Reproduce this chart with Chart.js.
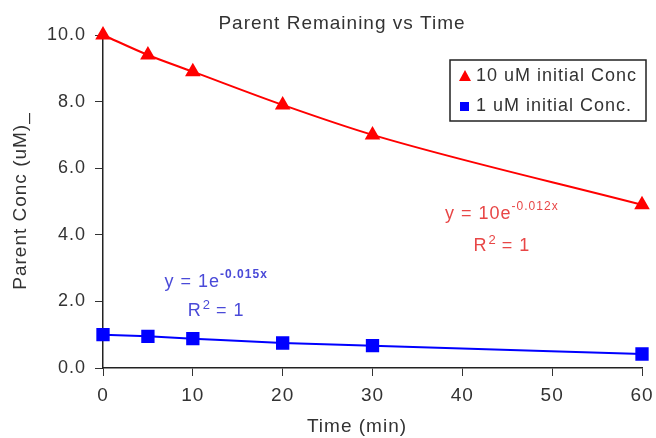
<!DOCTYPE html>
<html>
<head>
<meta charset="utf-8">
<script src="https://cdn.jsdelivr.net/npm/chart.js@4.4.1/dist/chart.umd.min.js"></script>
<style>
  html, body { margin: 0; padding: 0; background: #fff; }
  #wrap { width: 656px; height: 438px; position: relative; }
</style>
</head>
<body>
<div id="wrap"><canvas id="myChart" width="656" height="438"></canvas></div>
<script>
"use strict";

// values
var times = [0, 5, 10, 20, 30, 60];
var conc10 = [10.0, 9.4, 8.9, 7.9, 7.0, 4.9];
var conc1 = [1.0, 0.95, 0.88, 0.75, 0.67, 0.42];
var seriesNames = ["10 uM initial Conc", "1 uM initial Conc."];
var fitLabels = [
    { eq: "y = 10e", exp: "-0.012x", color: "#e84646", bold: false },
    { eq: "y = 1e", exp: "-0.015x", color: "#4a4ad8", bold: true }
];

var FONT = "'Liberation Sans', Arial, sans-serif";
var TEXT = "#333333";
var SPACING = "1px";

function toPoints(xs, ys) {
    return xs.map(function (x, i) { return { x: x, y: ys[i] }; });
}

// the source text is a bit wider than plain Arial
var spacing = {
    id: "spacing",
    beforeLayout: function (chart) { chart.ctx.letterSpacing = SPACING; },
    beforeDraw: function (chart) { chart.ctx.letterSpacing = SPACING; }
};

// titles, equation labels and boxed legend
var extras = {
    id: "extras",
    afterDraw: function (chart) {
        var c = chart.ctx;
        var xs = chart.scales.x;
        c.save();

        // chart title
        c.fillStyle = TEXT;
        c.font = "19px " + FONT;
        c.textAlign = "center";
        c.textBaseline = "middle";
        c.fillText("Parent Remaining vs Time", 342, 24);

        // axis titles
        c.fillText("Time (min)", 357, 427);
        c.save();
        c.translate(21, 201);
        c.rotate(-Math.PI / 2);
        c.fillText("Parent Conc (uM)_", 0, 0);
        c.restore();

        // fit equations
        var spots = [[44.4, 219, 251], [12.6, 287, 316]];
        fitLabels.forEach(function (f, i) {
            var cx = xs.getPixelForValue(spots[i][0]);
            var y1 = spots[i][1];
            var y2 = spots[i][2];
            var sup = (f.bold ? "bold " : "") + "12px " + FONT;
            c.fillStyle = f.color;
            c.textBaseline = "alphabetic";
            c.textAlign = "left";
            c.font = "18px " + FONT;
            var w1 = c.measureText(f.eq).width;
            c.font = sup;
            var w2 = c.measureText(f.exp).width;
            var x0 = cx - (w1 + w2) / 2;
            c.font = "18px " + FONT;
            c.fillText(f.eq, x0, y1);
            c.font = sup;
            c.fillText(f.exp, x0 + w1, y1 - 9);
            // R^2 = 1
            c.font = "18px " + FONT;
            var a = c.measureText("R").width, b = c.measureText(" = 1").width;
            c.font = "13px " + FONT;
            var s = c.measureText("2").width;
            var rx = cx - (a + s + b) / 2;
            c.font = "18px " + FONT;
            c.fillText("R", rx, y2);
            c.fillText(" = 1", rx + a + s, y2);
            c.font = "13px " + FONT;
            c.fillText("2", rx + a + 1, y2 - 7);
        });

        // legend box
        var bx = 450, by = 60, bw = 196, bh = 61;
        c.strokeStyle = "#222";
        c.lineWidth = 1.5;
        c.strokeRect(bx, by, bw, bh);
        c.font = "18px " + FONT;
        c.textAlign = "left";
        c.textBaseline = "middle";
        var rows = [76, 106];
        c.fillStyle = "#ff0000";
        c.beginPath();
        c.moveTo(465, rows[0] - 6);
        c.lineTo(471, rows[0] + 5);
        c.lineTo(459, rows[0] + 5);
        c.closePath();
        c.fill();
        c.fillStyle = "#0000ff";
        c.fillRect(460, rows[1] - 4, 9, 9);
        c.fillStyle = TEXT;
        c.fillText(seriesNames[0], 476, rows[0]);
        c.fillText(seriesNames[1], 476, rows[1]);
        c.restore();
    }
};

var ctx = document.getElementById("myChart");
var myChart = new Chart(ctx, {
    type: "scatter",
    data: {
        datasets: [
            {
                label: seriesNames[0],
                data: toPoints(times, conc10),
                showLine: true,
                clip: false,
                borderColor: "#ff0000",
                backgroundColor: "#ff0000",
                borderWidth: 2,
                pointStyle: "triangle",
                pointRadius: 7,
                cubicInterpolationMode: "monotone"
            },
            {
                label: seriesNames[1],
                data: toPoints(times, conc1),
                showLine: true,
                clip: false,
                borderColor: "#0000ff",
                backgroundColor: "#0000ff",
                borderWidth: 2,
                pointStyle: "rect",
                pointRadius: 8,
                cubicInterpolationMode: "monotone"
            }
        ]
    },
    options: {
        responsive: false,
        animation: false,
        devicePixelRatio: 1,
        layout: { padding: { top: 35, right: 14, left: 0, bottom: 0 } },
        plugins: {
            legend: { display: false },
            tooltip: { enabled: false }
        },
        scales: {
            x: {
                type: "linear",
                min: 0,
                max: 60,
                afterFit: function (s) {
                    s.height = 70;
                    s.paddingLeft = 0;
                    s.paddingRight = 0;
                },
                ticks: { stepSize: 10, color: TEXT, padding: 8, font: { family: FONT, size: 19 } },
                grid: { drawOnChartArea: false, drawTicks: true, tickLength: 8, color: "#333" },
                border: { color: "#222", width: 1.5 }
            },
            y: {
                min: 0,
                max: 10,
                afterFit: function (s) {
                    s.width = 103;
                    s.paddingTop = 0;
                    s.paddingBottom = 0;
                },
                ticks: {
                    stepSize: 2, color: TEXT, padding: 9, font: { family: FONT, size: 18 },
                    callback: function (v) { return v.toFixed(1); }
                },
                grid: { drawOnChartArea: false, drawTicks: true, tickLength: 8, color: "#333" },
                border: { color: "#222", width: 1.5 }
            }
        }
    },
    plugins: [spacing, extras]
});
</script>
</body>
</html>
